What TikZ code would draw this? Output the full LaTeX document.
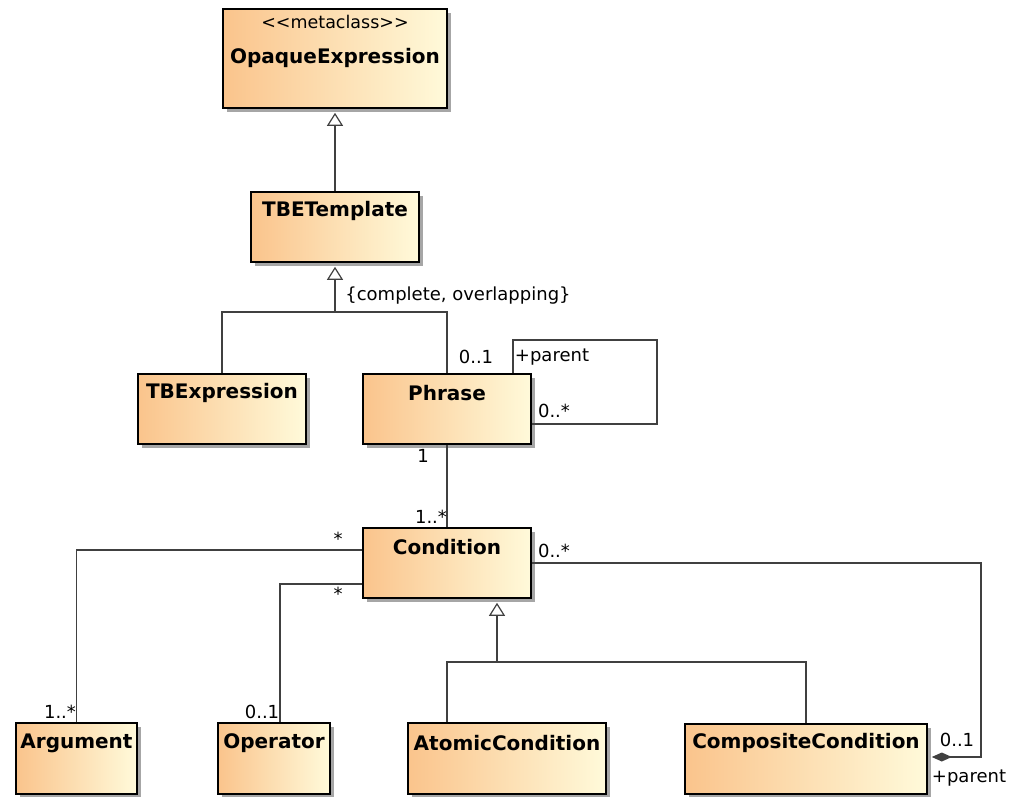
\documentclass[tikz,border=0pt]{standalone}
\usepackage{fontspec}
\setmainfont{DejaVu Sans}
\usetikzlibrary{arrows.meta,shadows}

\definecolor{clsL}{RGB}{250,196,140}
\definecolor{clsR}{RGB}{255,250,218}
\definecolor{wire}{RGB}{64,64,64}

\begin{document}
\begin{tikzpicture}[x=1pt,y=-1pt,
  cls/.style={draw=black, line width=1.6pt, left color=clsL, right color=clsR,
    general shadow={fill=black!35, shadow xshift=4pt, shadow yshift=-4pt},
    inner sep=0pt, minimum width=168pt, minimum height=70pt},
  clsname/.style={font=\fontsize{20}{22}\selectfont\bfseries, inner sep=0pt},
  small/.style={font=\fontsize{18}{21}\selectfont, inner sep=0pt},
  wirestyle/.style={draw=wire, line width=1.6pt},
  gen/.style={wirestyle, -{Triangle[open, length=13pt, width=16pt, line width=1.2pt, fill=white]}, shorten >=4pt},
  comp/.style={wirestyle, -{Diamond[length=20pt, width=9pt, fill=wire]}, shorten >=4pt},
]
\useasboundingbox (0,0) rectangle (1013,796);

% classes
\node[cls, minimum width=224pt, minimum height=99pt] (opaque) at (335,58.5) {};
\node[small, font=\fontsize{17.5}{20}\selectfont] (opaqueS) at ([yshift=-14pt]opaque.north) {<{}<metaclass>{}>};
\node[clsname] (opaqueN) at ([yshift=-50pt]opaque.north) {OpaqueExpression};

\node[cls] (tbet) at (335,227) {};
\node[clsname] (tbetN) at ([yshift=-20pt]tbet.north) {TBETemplate};

\node[cls] (tbexp) at (222,409) {};
\node[clsname] (tbexpN) at ([yshift=-20pt]tbexp.north) {TBExpression};

\node[cls] (phrase) at (447,409) {};
\node[clsname] (phraseN) at ([yshift=-20pt]phrase.north) {Phrase};

\node[cls] (cond) at (447,563) {};
\node[clsname] (condN) at ([yshift=-20pt]cond.north) {Condition};

\node[cls, minimum width=121pt, minimum height=71pt] (arg) at (76.5,758.5) {};
\node[clsname] (argN) at ([yshift=-21pt]arg.north) {Argument};

\node[cls, minimum width=112pt, minimum height=71pt] (oper) at (274,758.5) {};
\node[clsname] (operN) at ([yshift=-21pt]oper.north) {Operator};

\node[cls, minimum width=198pt, minimum height=71pt] (atomic) at (507,758.5) {};
\node[clsname] (atomicN) at ([yshift=-21pt]atomic.north) {AtomicCondition};

\node[cls, minimum width=242pt, minimum height=70pt] (compo) at (806,759) {};
\node[clsname] (compoN) at ([yshift=-20pt]compo.north) {CompositeCondition};

% generalizations
\draw[gen] (tbet.north) -- (opaque.south);

\coordinate (g1) at (335,312);
\draw[wirestyle] (tbexp.north) |- (g1) -| (phrase.north);
\draw[gen] (g1) -- (tbet.south);
\node[small] (gsetT) at (458,296) {\{complete, overlapping\}};

\coordinate (g2) at (497,662);
\draw[wirestyle] ([xshift=-60pt]atomic.north) |- (g2) -| (compo.north);
\draw[gen] (g2) -- ([xshift=50pt]cond.south);

% Phrase self association
\coordinate (loopC) at (657,340);
\draw[wirestyle] ([xshift=-19pt]phrase.north east) |- (loopC) |- ([yshift=-15pt]phrase.east);
\node[small] (m1) at (476,357) {0..1};
\node[small] (r1) at (552,357) {+parent};
\node[small] (m2) at (554,411) {0..*};

% Phrase - Condition
\draw[wirestyle] (phrase.south) -- (cond.north);
\node[small] (m3) at (423,456) {1};
\node[small] (m4) at (431,517) {1..*};

% Condition - Argument
\draw[wirestyle] ([yshift=13pt]cond.west) -| (arg.north);
\node[small] (m5) at (338,539) {*};
\node[small] (m6) at (60,712) {1..*};

% Condition - Operator
\draw[wirestyle] ([yshift=-21pt]cond.west) -| ([xshift=6pt]oper.north);
\node[small] (m7) at (338,594) {*};
\node[small] (m8) at (262,712) {0..1};

% Condition - CompositeCondition (composition)
\coordinate (cc) at (981,563);
\draw[comp] (cond.east) -- (cc) |- ([yshift=2pt]compo.east);
\node[small] (m9) at (554,551) {0..*};
\node[small] (m10) at (957,740) {0..1};
\node[small] (r2) at (969,778) {+parent};
\end{tikzpicture}
\end{document}
